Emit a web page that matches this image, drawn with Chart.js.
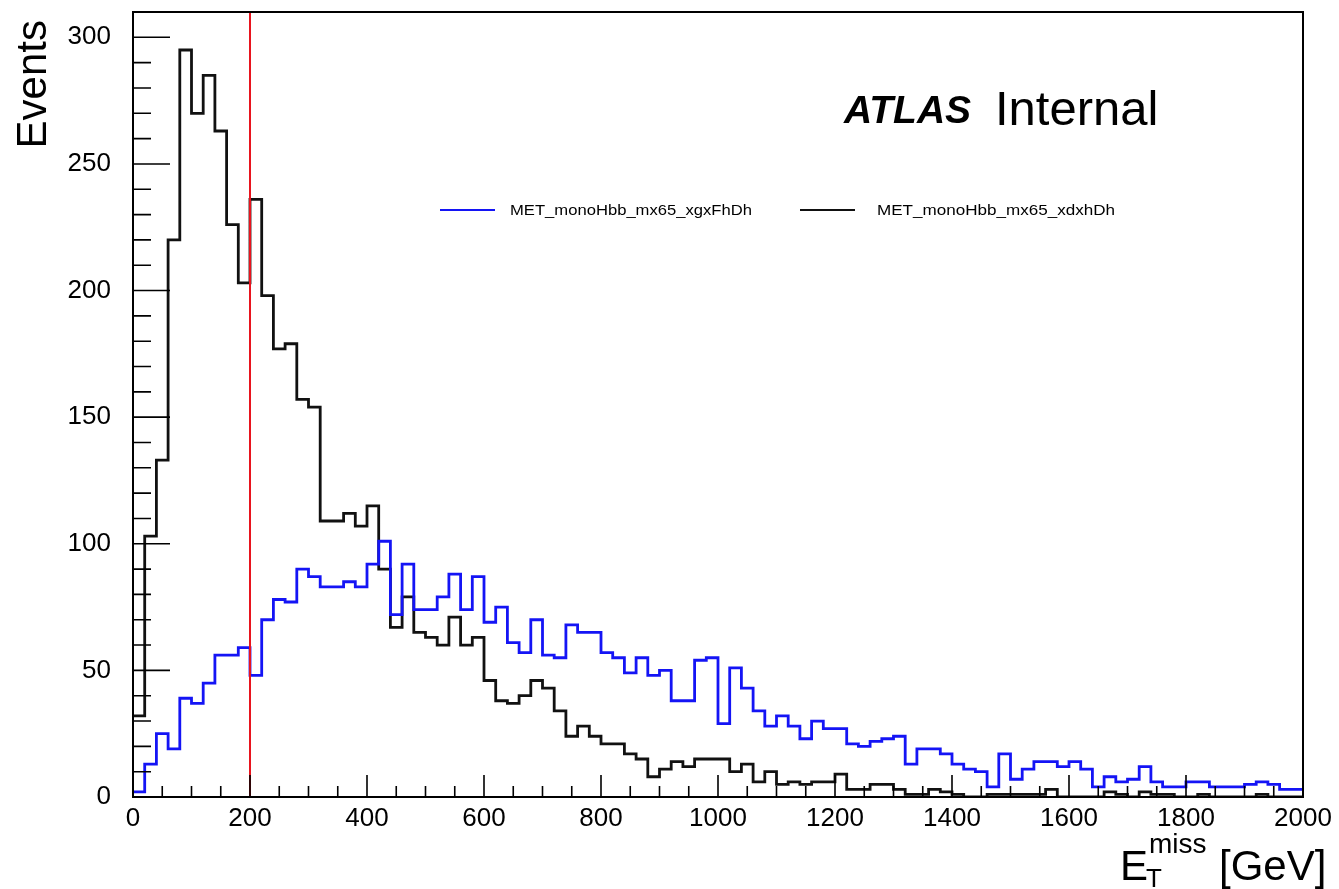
<!DOCTYPE html>
<html>
<head>
<meta charset="utf-8">
<title>MET monoHbb mx65</title>
<script src="https://cdn.jsdelivr.net/npm/chart.js@4.4.1/dist/chart.umd.min.js"></script>
<style>
  html, body { margin: 0; padding: 0; background: #fff; }
  #wrap { width: 1339px; height: 889px; }
</style>
</head>
<body>
<div id="wrap"><canvas id="metChart"></canvas></div>
<script>
// MET histograms, 20 GeV bins from 0 to 2000 GeV
var binWidth = 20;
var xMin = 0, xMax = 2000;
var yMin = 0, yMax = 310;

var seriesNames = ["MET_monoHbb_mx65_xgxFhDh", "MET_monoHbb_mx65_xdxhDh"];

// xgxFhDh sample (blue)
var xgxCounts = [
   2, 13, 25, 19, 39, 37, 45, 56, 56, 59,
  48, 70, 78, 77, 90, 87, 83, 83, 85, 83,
  92,101, 72, 92, 74, 74, 79, 88, 74, 87,
  69, 75, 61, 57, 70, 56, 55, 68, 65, 65,
  57, 55, 49, 55, 48, 50, 38, 38, 54, 55,
  29, 51, 43, 34, 28, 32, 28, 23, 30, 27,
  27, 21, 20, 22, 23, 24, 13, 19, 19, 17,
  13, 11, 10,  4, 17,  7, 11, 14, 14, 12,
  14, 11,  4,  8,  6,  7, 12,  6,  4,  4,
   6,  6,  4,  4,  4,  5,  6,  5,  3,  3
];

// xdxhDh sample (black)
var xdxCounts = [
  32,103,133,220,295,270,285,263,226,203,
 236,198,177,179,157,154,109,109,112,107,
 115, 90, 67, 79, 65, 63, 60, 71, 60, 63,
  46, 38, 37, 40, 46, 43, 34, 24, 28, 24,
  21, 21, 17, 15,  8, 11, 14, 12, 15, 15,
  15, 10, 13,  6, 10,  5,  6,  5,  6,  6,
   9,  3,  3,  5,  5,  3,  1,  1,  3,  2,
   1,  0,  0,  1,  1,  1,  1,  1,  3,  0,
   0,  0,  0,  2,  1,  0,  2,  1,  1,  0,
   0,  1,  0,  0,  0,  0,  1,  0,  0,  0
];

// cut value marked with the red line
var metCut = 200;

var xTickLabels = ["0","200","400","600","800","1000","1200","1400","1600","1800","2000"];
var yTickLabels = ["0","50","100","150","200","250","300"];

var xMajor = 200, xMinor = 50;
var yMajor = 50, yMinor = 10;

var blueColor = "#1414f5";
var blackColor = "#111111";
var redColor = "#e8141e";
var fontFamily = "'Liberation Sans', Arial, Helvetica, sans-serif";

// outline points: left edge of every bin, plus closing point at the last right edge
function histPoints(counts) {
  var pts = [];
  for (var i = 0; i < counts.length; i++) {
    pts.push({x: xMin + i * binWidth, y: counts[i]});
  }
  pts.push({x: xMin + counts.length * binWidth, y: counts[counts.length - 1]});
  return pts;
}

// ticks inside the frame, frame box and all the text on top
var rootStyle = {
  id: "rootStyle",
  afterDatasetsDraw: function(chart) {
    var ctx = chart.ctx, a = chart.chartArea;
    var xs = chart.scales.x, ys = chart.scales.y;
    ctx.save();
    ctx.strokeStyle = "#000";
    ctx.lineWidth = 1.6;
    ctx.beginPath();
    for (var v = yMin; v <= yMax; v += yMinor) {
      var py = ys.getPixelForValue(v);
      var len = (v % yMajor === 0) ? 37 : 18;
      ctx.moveTo(a.left, py);
      ctx.lineTo(a.left + len, py);
    }
    for (var u = xMin; u <= xMax; u += xMinor) {
      var px = xs.getPixelForValue(u);
      var l2 = (u % xMajor === 0) ? 22 : 11;
      ctx.moveTo(px, a.bottom);
      ctx.lineTo(px, a.bottom - l2);
    }
    ctx.stroke();
    ctx.lineWidth = 2;
    ctx.strokeRect(a.left, a.top, a.right - a.left, a.bottom - a.top);
    ctx.restore();
  },
  afterDraw: function(chart) {
    var ctx = chart.ctx;
    ctx.save();
    ctx.fillStyle = "#000";
    ctx.textBaseline = "alphabetic";

    // y axis title
    ctx.save();
    ctx.translate(46, 20);
    ctx.rotate(-Math.PI / 2);
    ctx.textAlign = "right";
    ctx.font = "42px " + fontFamily;
    ctx.fillText("Events", 0, 0);
    ctx.restore();

    // x axis title
    ctx.textAlign = "left";
    ctx.font = "42px " + fontFamily;
    ctx.fillText("E", 1120, 880);
    ctx.font = "26px " + fontFamily;
    ctx.fillText("T", 1146, 887);
    ctx.font = "28px " + fontFamily;
    ctx.fillText("miss", 1149, 853);
    ctx.font = "42px " + fontFamily;
    ctx.fillText("[GeV]", 1219, 880);

    // experiment label
    ctx.font = "italic bold 39px " + fontFamily;
    ctx.fillText("ATLAS", 844, 123);
    ctx.font = "49px " + fontFamily;
    ctx.fillText("Internal", 995, 125);

    // legend
    var entries = [
      {color: blueColor, text: seriesNames[0], x0: 440, tx: 510, tw: 242},
      {color: blackColor, text: seriesNames[1], x0: 800, tx: 877, tw: 238}
    ];
    ctx.lineWidth = 2;
    ctx.textBaseline = "middle";
    ctx.font = "15px " + fontFamily;
    entries.forEach(function(e) {
      ctx.strokeStyle = e.color;
      ctx.beginPath();
      ctx.moveTo(e.x0, 210);
      ctx.lineTo(e.x0 + 55, 210);
      ctx.stroke();
      var w = ctx.measureText(e.text).width;
      ctx.save();
      ctx.translate(e.tx, 211);
      ctx.scale(e.tw / w, 1);
      ctx.fillText(e.text, 0, 0);
      ctx.restore();
    });
    ctx.restore();
  }
};

var ctx = document.getElementById("metChart").getContext("2d");
var chart = new Chart(ctx, {
  type: "line",
  data: {
    datasets: [
      {
        label: "cut",
        data: [{x: metCut, y: yMin}, {x: metCut, y: yMax}],
        borderColor: redColor,
        borderWidth: 2,
        pointRadius: 0
      },
      {
        label: seriesNames[0],
        data: histPoints(xgxCounts),
        stepped: "before",
        borderColor: blueColor,
        borderWidth: 2.8,
        pointRadius: 0,
        fill: false
      },
      {
        label: seriesNames[1],
        data: histPoints(xdxCounts),
        stepped: "before",
        borderColor: blackColor,
        borderWidth: 2.8,
        pointRadius: 0,
        fill: false
      }
    ]
  },
  options: {
    responsive: true,
    maintainAspectRatio: false,
    animation: false,
    events: [],
    layout: { padding: { top: 12, right: 36, left: 0, bottom: 0 } },
    plugins: {
      legend: { display: false },
      tooltip: { enabled: false },
      title: { display: false }
    },
    scales: {
      x: {
        type: "linear",
        min: xMin,
        max: xMax,
        grid: { display: false },
        border: { display: false },
        ticks: {
          maxRotation: 0,
          autoSkip: false,
          padding: -2,
          color: "#000",
          font: { family: fontFamily, size: 26 },
          callback: function(v) { return String(v); }
        },
        afterBuildTicks: function(scale) {
          scale.ticks = xTickLabels.map(function(l) { return {value: Number(l)}; });
        },
        afterFit: function(scale) {
          scale.height = 92;
          scale.paddingLeft = 0;
          scale.paddingRight = 0;
        }
      },
      y: {
        min: yMin,
        max: yMax,
        grid: { display: false },
        border: { display: false },
        ticks: {
          padding: 14,
          color: "#000",
          font: { family: fontFamily, size: 26 },
          callback: function(v) { return String(v); }
        },
        afterBuildTicks: function(scale) {
          scale.ticks = yTickLabels.map(function(l) { return {value: Number(l)}; });
        },
        afterFit: function(scale) {
          scale.width = 133;
          scale.paddingTop = 0;
          scale.paddingBottom = 0;
        }
      }
    }
  },
  plugins: [rootStyle]
});
</script>
</body>
</html>
